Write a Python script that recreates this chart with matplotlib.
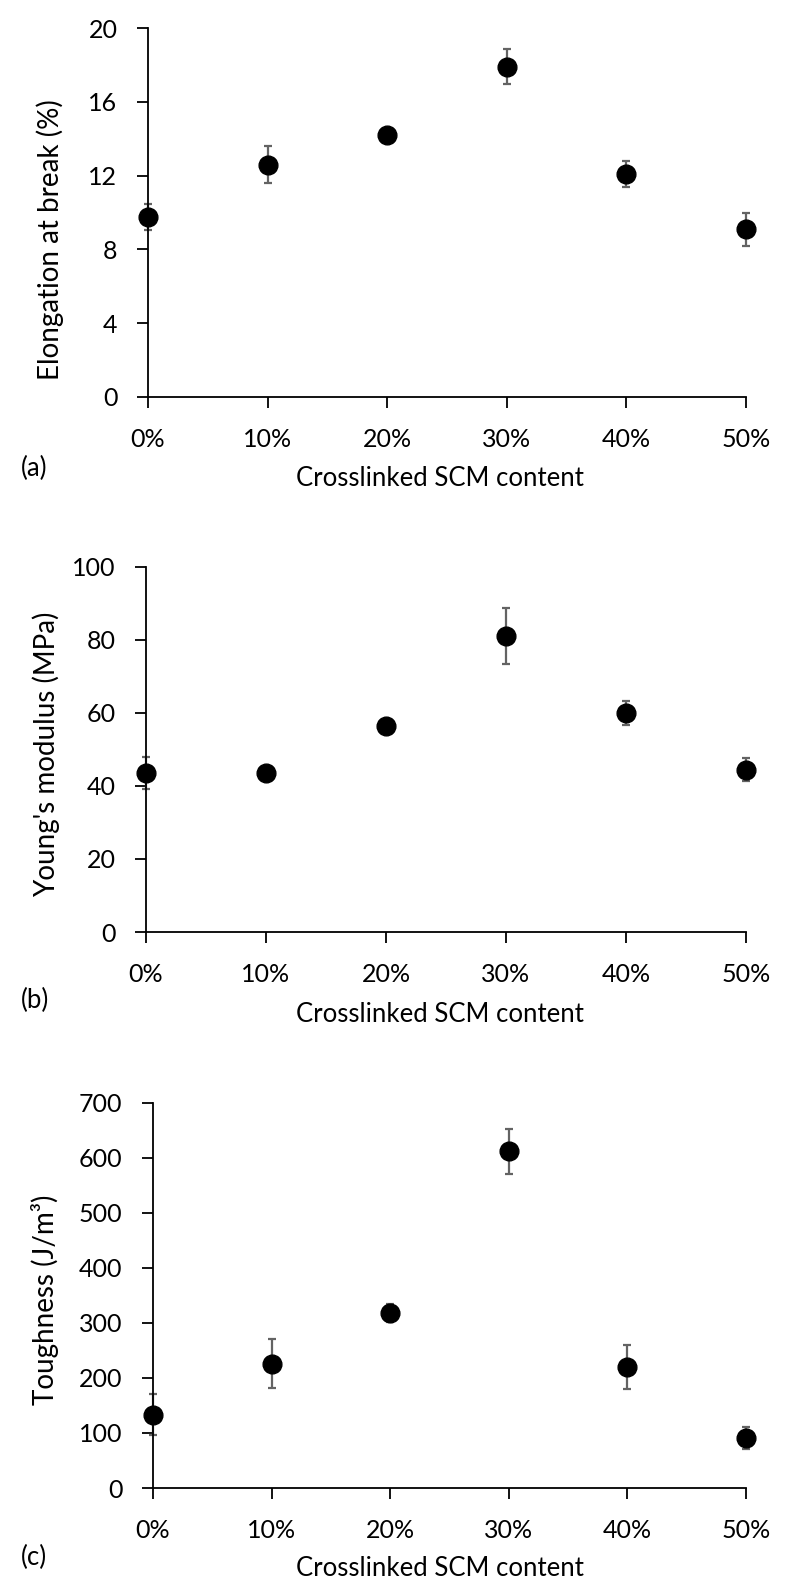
import matplotlib
matplotlib.use("Agg")
import matplotlib.pyplot as plt

plt.rcParams['font.family'] = ['Lato', 'DejaVu Sans']

content = ['0%', '10%', '20%', '30%', '40%', '50%']

elongation = [9.75, 12.6, 14.2, 17.9, 12.1, 9.1]
elongation_err = [0.7, 1.0, 0.2, 0.95, 0.7, 0.9]

modulus = [43.6, 43.6, 56.4, 81.1, 60.0, 44.4]
modulus_err = [4.4, 0.5, 0.8, 7.6, 3.3, 3.1]

toughness = [133, 226, 318, 612, 220, 90]
toughness_err = [37, 45, 16, 41, 40, 20]

W, H = 787, 1593

# layout in pixels: spine x, axis y, top y, ylabel (x, y), tag y, xlabel y
panels = [
    (elongation, elongation_err, 'Elongation at break (%)', 20, 4,
     148, 397, 28, (50, 240), 468, 479, '(a)'),
    (modulus, modulus_err, "Young's modulus (MPa)", 100, 20,
     146, 932, 566.7, (46, 754), 1000, 1015, '(b)'),
    (toughness, toughness_err, 'Toughness (J/m³)', 700, 100,
     153, 1488, 1102.7, (45, 1300), 1557, 1569, '(c)'),
]

fig = plt.figure(figsize=(W / 100, H / 100), dpi=100)

for (vals, errs, ylabel, ymax, ystep, x0, yb, yt, ylpos, tag_y, xl_y,
     tag) in panels:
    ax = fig.add_axes([x0 / W, 1 - yb / H, (746 - x0) / W, (yb - yt) / H])
    x = list(range(len(content)))
    ax.errorbar(x, vals, yerr=errs, fmt='none', ecolor='#636363',
                elinewidth=1.6, capsize=3, capthick=1.6, zorder=2,
                clip_on=False)
    ax.plot(x, vals, 'o', color='black', markersize=13.5, zorder=3,
            clip_on=False)

    ax.set_xlim(0, len(content) - 1)
    ax.set_ylim(0, ymax)
    ax.set_xticks(x)
    ax.set_xticklabels(content)
    ax.set_yticks(range(0, ymax + 1, ystep))
    ax.spines['top'].set_visible(False)
    ax.spines['right'].set_visible(False)
    for s in ['left', 'bottom']:
        ax.spines[s].set_linewidth(1.3)
    ax.tick_params(axis='both', direction='out', length=8, width=1.3,
                   labelsize=18)
    ax.tick_params(axis='x', pad=14)
    ax.tick_params(axis='y', pad=14)

    fig.text(ylpos[0] / W, 1 - ylpos[1] / H, ylabel, fontsize=20,
             rotation=90, va='center', ha='center')
    fig.text(21 / W, 1 - tag_y / H, tag, fontsize=18.5, va='center',
             ha='left')
    fig.text(440 / W, 1 - xl_y / H, 'Crosslinked SCM content',
             fontsize=18.5, va='center', ha='center')

fig.savefig('out.png', dpi=100)
